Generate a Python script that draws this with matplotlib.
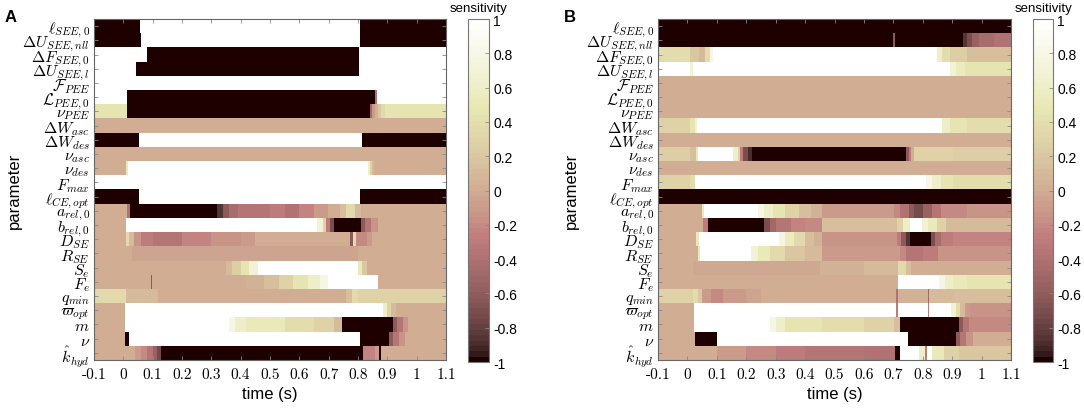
import numpy as np
import matplotlib.pyplot as plt

plt.rcParams["axes.unicode_minus"] = False
plt.rcParams["mathtext.fontset"] = "cm"
plt.rcParams["font.family"] = ["Liberation Sans", "DejaVu Sans"]

# 파라미터 이름 (위에서 아래로)
params = [r'$\ell_{SEE,0}$', r'$\Delta U_{SEE,nll}$', r'$\Delta F_{SEE,0}$', r'$\Delta U_{SEE,l}$',
          r'$\mathcal{F}_{PEE}$', r'$\mathcal{L}_{PEE,0}$', r'$\nu_{PEE}$', r'$\Delta W_{asc}$',
          r'$\Delta W_{des}$', r'$\nu_{asc}$', r'$\nu_{des}$', r'$F_{max}$', r'$\ell_{CE,opt}$',
          r'$a_{rel,0}$', r'$b_{rel,0}$', r'$D_{SE}$', r'$R_{SE}$', r'$S_e$', r'$F_e$',
          r'$q_{min}$', r'$\varpi_{opt}$', r'$m$', r'$\nu$', r'$\hat{k}_{hyd}$']

t_ticks = [-0.1, 0, 0.1, 0.2, 0.3, 0.4, 0.5, 0.6, 0.7, 0.8, 0.9, 1.0, 1.1]
t_labels = ['-0.1', '0', '0.1', '0.2', '0.3', '0.4', '0.5', '0.6', '0.7', '0.8', '0.9', '1', '1.1']
cb_ticks = [-1, -0.8, -0.6, -0.4, -0.2, 0, 0.2, 0.4, 0.6, 0.8, 1]
cb_labels = ['-1', '-0.8', '-0.6', '-0.4', '-0.2', '0', '0.2', '0.4', '0.6', '0.8', '1']

# 각 행: (시작 시간, 민감도) - 다음 시작 시간까지 유지
rows_A = [
    [(-0.1, -1), (0.057, 1), (0.807, -1)],
    [(-0.1, -1), (0.062, 1), (0.807, -1)],
    [(-0.1, 1), (0.08, -1), (0.805, 1)],
    [(-0.1, 1), (0.043, -1), (0.805, 1)],
    [(-0.1, 1)],
    [(-0.1, 1), (0.011, -1), (0.858, -0.4), (0.864, 1)],
    [(-0.1, 0.45), (0.012, -1), (0.843, -0.5), (0.85, -0.1), (0.858, 0.05), (0.868, 0.2), (0.88, 0.35), (0.892, 0.45)],
    [(-0.1, 0)],
    [(-0.1, -1), (0.053, 1), (0.813, -1)],
    [(-0.1, 0)],
    [(-0.1, 0), (0.01, 0.5), (0.015, 1), (0.834, 0.6), (0.84, 0.3), (0.848, 0.1), (0.856, 0)],
    [(-0.1, 1)],
    [(-0.1, -1), (0.053, 1), (0.807, -1)],
    [(-0.1, 0), (0.012, -0.4), (0.022, -1), (0.32, -0.85), (0.34, -0.6), (0.36, -0.45), (0.39, -0.35),
     (0.5, -0.3), (0.55, -0.4), (0.6, -0.25), (0.65, -0.1), (0.7, 0), (0.74, 0.15), (0.76, 0.35), (0.79, 0.1), (0.81, 0)],
    [(-0.1, 0), (0.008, 1), (0.66, 0.7), (0.68, 0.3), (0.69, -0.3), (0.705, -0.7), (0.72, -1), (0.81, -0.6),
     (0.825, -0.35), (0.845, -0.15), (0.87, 0)],
    [(-0.1, 0), (0.01, 0.35), (0.02, 0.1), (0.035, -0.15), (0.06, -0.3), (0.1, -0.35), (0.2, -0.25), (0.3, -0.15),
     (0.4, -0.1), (0.45, 0), (0.775, -0.6), (0.783, 0.4), (0.795, -0.2), (0.83, -0.1), (0.85, 0)],
    [(-0.1, 0), (0.03, -0.04), (0.8, 0)],
    [(-0.1, 0), (0.35, 0.1), (0.37, 0.25), (0.4, 0.45), (0.43, 0.7), (0.46, 1), (0.8, 0.5), (0.815, 0.2), (0.83, 0)],
    [(-0.1, 0), (0.094, -0.6), (0.099, 0), (0.42, 0.05), (0.48, 0.15), (0.53, 0.3), (0.58, 0.45), (0.63, 0.6),
     (0.67, 0.8), (0.7, 1), (0.87, 0)],
    [(-0.1, 0.35), (0.01, 0.1), (0.12, 0.02), (0.2, 0), (0.76, 0.15), (0.78, 0.35), (0.8, 0.3)],
    [(-0.1, 0), (0.005, 1), (0.885, 0.6), (0.9, 0.3), (0.915, 0.1), (0.93, 0)],
    [(-0.1, 0), (0.005, 1), (0.36, 0.8), (0.38, 0.6), (0.42, 0.5), (0.55, 0.4), (0.65, 0.3), (0.72, 0.1),
     (0.745, -1), (0.92, -0.6), (0.935, -0.35), (0.955, -0.15), (0.97, 0)],
    [(-0.1, 0), (0.005, -1), (0.02, 1), (0.808, -1), (0.905, -0.6), (0.92, -0.35), (0.94, -0.15), (0.96, 0)],
    [(-0.1, 0), (0.04, -0.1), (0.06, -0.2), (0.08, -0.35), (0.1, -0.55), (0.115, -0.75), (0.13, -1),
     (0.818, -0.25), (0.86, -0.1), (0.873, -1), (0.878, 0)],
]

rows_B = [
    [(-0.1, -1)],
    [(-0.1, -1), (0.698, -0.6), (0.703, -1), (0.935, -0.85), (0.95, -0.7), (0.965, -0.55), (0.99, -0.45), (1.04, -0.4)],
    [(-0.1, 0.4), (0.01, 0.2), (0.04, 0.1), (0.06, 0.4), (0.075, 0.8), (0.085, 1), (0.848, 0.6), (0.865, 0.4),
     (0.89, 0.25), (0.95, 0.15)],
    [(-0.1, 1), (0.008, 0.7), (0.018, 1), (0.89, 0.7), (0.91, 0.55), (0.94, 0.45)],
    [(-0.1, 0)],
    [(-0.1, 0)],
    [(-0.1, 0)],
    [(-0.1, 0.3), (0.01, 0.45), (0.025, 0.7), (0.032, 1), (0.865, 0.6), (0.89, 0.45), (0.95, 0.4)],
    [(-0.1, 0)],
    [(-0.1, 0.25), (0.01, 0.15), (0.03, 0.5), (0.037, 1), (0.156, 0.6), (0.17, 0.3), (0.179, -0.3), (0.19, -0.7),
     (0.205, -0.9), (0.219, -1), (0.74, -0.6), (0.752, -0.3), (0.76, 0), (0.77, 0.3), (0.9, 0.25)],
    [(-0.1, 0)],
    [(-0.1, 0.3), (0.01, 0.4), (0.027, 1), (0.808, 0.8), (0.83, 0.6), (0.86, 0.45), (0.9, 0.4)],
    [(-0.1, -1)],
    [(-0.1, 0), (0.049, 0.5), (0.055, 1), (0.24, 0.8), (0.26, 0.6), (0.29, 0.45), (0.33, 0.3), (0.38, 0.15),
     (0.42, 0.05), (0.457, -0.1), (0.7, -0.2), (0.72, -0.4), (0.75, -0.6), (0.77, -0.75), (0.8, -0.55),
     (0.83, -0.35), (0.86, -0.2), (0.95, -0.15)],
    [(-0.1, 0), (0.054, -0.3), (0.071, -1), (0.259, -0.7), (0.28, -0.5), (0.3, -0.35), (0.35, -0.25), (0.4, -0.2),
     (0.457, 0.15), (0.71, 0.3), (0.73, 0.6), (0.755, 1), (0.797, 0.7), (0.815, 0.5), (0.845, 0.3), (0.876, 0.12)],
    [(-0.1, 0), (0.03, 0.5), (0.038, 1), (0.31, 0.75), (0.33, 0.55), (0.36, 0.35), (0.4, 0.15), (0.43, 0.05),
     (0.457, -0.15), (0.71, -0.3), (0.725, -0.6), (0.74, -0.85), (0.755, -1), (0.825, -0.7), (0.84, -0.45),
     (0.86, -0.3), (0.9, -0.25)],
    [(-0.1, 0), (0.035, 0.5), (0.042, 1), (0.215, 0.7), (0.24, 0.5), (0.28, 0.35), (0.33, 0.2), (0.4, 0.1),
     (0.457, -0.1), (0.72, -0.2), (0.74, -0.35), (0.8, -0.3), (0.85, -0.15)],
    [(-0.1, 0), (0.02, -0.03), (0.45, 0.05), (0.6, 0.1), (0.715, 0.35), (0.74, 0.15), (0.76, 0)],
    [(-0.1, 0), (0.715, 1), (0.855, 0.8), (0.875, 0.6), (0.9, 0.5), (0.95, 0.45)],
    [(-0.1, 0.3), (0.02, 0.4), (0.035, 0.2), (0.05, -0.1), (0.08, -0.2), (0.12, -0.1), (0.2, -0.05), (0.25, 0),
     (0.709, -0.4), (0.713, 0.05), (0.816, -0.5), (0.82, 0.1), (0.9, 0.15)],
    [(-0.1, 0), (0.022, 1), (0.709, -0.3), (0.713, 1), (0.816, -0.3), (0.82, 1), (0.895, 0.7), (0.91, 0.4),
     (0.925, 0.1), (0.94, -0.1), (0.96, -0.15)],
    [(-0.1, 0), (0.022, 1), (0.28, 0.8), (0.3, 0.6), (0.33, 0.45), (0.457, 0.4), (0.6, 0.3), (0.7, 0.15),
     (0.722, -1), (0.92, -0.6), (0.935, -0.35), (0.955, -0.2)],
    [(-0.1, 0), (0.027, -1), (0.1, 1), (0.747, -1), (0.91, -0.6), (0.925, -0.35), (0.945, -0.15), (0.97, 0)],
    [(-0.1, 0), (0.1, -0.1), (0.2, -0.2), (0.3, -0.3), (0.4, -0.35), (0.6, -0.4), (0.704, -1), (0.72, 1),
     (0.786, 0.6), (0.806, -0.3), (0.811, 1), (0.83, 0.5), (0.87, 0.3), (0.92, 0.2)],
]

t_grid = np.arange(-0.1, 1.1, 0.001) + 0.0005


def make_grid(rows):
    grid = np.zeros((len(rows), len(t_grid)))
    for i, segs in enumerate(rows):
        for t0, v in segs:
            grid[i, t_grid >= t0] = v
    return grid


cmap = plt.get_cmap('pink', 64)
fig = plt.figure(figsize=(10.84, 4.1), dpi=100)

panels = [
    ('A', rows_A, [0.0867, 0.1195, 0.3247, 0.8317], [0.4317, 0.1146, 0.0194, 0.8366], 0.004, 0.013),
    ('B', rows_B, [0.607, 0.1195, 0.3257, 0.8317], [0.953, 0.1146, 0.0185, 0.8366], 0.520, 0.527),
]

for letter, rows, ax_pos, cb_pos, letter_x, ylab_x in panels:
    ax = fig.add_axes(ax_pos)
    im = ax.imshow(make_grid(rows), cmap=cmap, vmin=-1, vmax=1, aspect='auto', interpolation='nearest',
                   extent=(-0.1, 1.1, len(rows) - 0.5, -0.5))
    ax.set_xlim(-0.1, 1.1)
    ax.set_ylim(len(rows) - 0.5, -0.5)
    ax.set_xticks(t_ticks)
    ax.set_xticklabels(t_labels, family='cmr10', fontsize=11)
    ax.set_yticks(range(len(params)))
    ax.set_yticklabels(params, fontsize=11.5)
    ax.tick_params(direction='in', top=True, right=True, length=3, width=0.6, color='#888888', pad=3)
    ax.tick_params(axis='x', pad=5)
    for s in ax.spines.values():
        s.set_color('#666666')
        s.set_linewidth(0.8)
    ax.set_xlabel('time (s)', fontsize=12, labelpad=4)
    fig.text(ylab_x, 0.535, 'parameter', rotation=90, fontsize=12, ha='center', va='center')
    fig.text(letter_x, 0.975, letter, fontsize=12, fontweight='bold', ha='left', va='top')

    cax = fig.add_axes(cb_pos)
    cb = fig.colorbar(im, cax=cax, ticks=cb_ticks)
    cb.set_ticklabels(cb_labels)
    cax.tick_params(direction='in', length=3, width=0.6, color='#888888', labelsize=10, pad=3)
    cb.outline.set_edgecolor('#777777')
    cb.outline.set_linewidth(0.8)
    cax.set_title('sensitivity', fontsize=9.5, pad=6)

fig.savefig('out.png', dpi=100)
